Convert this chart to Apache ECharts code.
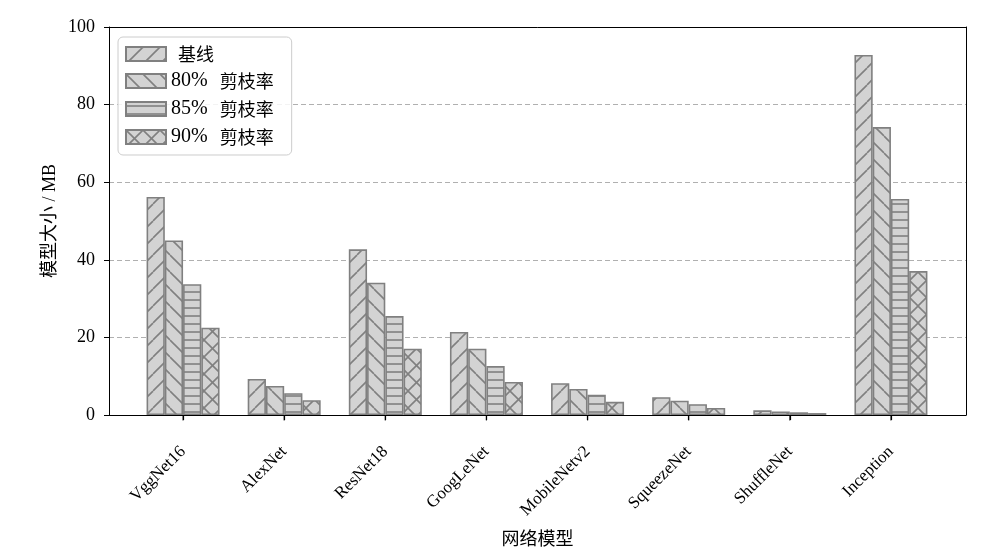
<!DOCTYPE html>
<html>
<head>
<meta charset="utf-8">
<script src="https://cdn.jsdelivr.net/npm/echarts@6/dist/echarts.min.js"></script>
<style>html,body{margin:0;padding:0;background:#fff}#c{width:1008px;height:560px}</style>
</head>
<body>
<div id="c"></div>
<script>
const categories = ['VggNet16', 'AlexNet', 'ResNet18', 'GoogLeNet', 'MobileNetv2', 'SqueezeNet', 'ShuffleNet', 'Inception'];
const seriesNames = ['基线', '80% 剪枝率', '85% 剪枝率', '90% 剪枝率'];
const baseline = [56.2, 9.3, 42.7, 21.4, 8.2, 4.6, 1.2, 92.8];
const prune80 = [45.0, 7.5, 34.1, 17.1, 6.7, 3.7, 0.9, 74.2];
const prune85 = [33.7, 5.6, 25.5, 12.6, 5.2, 2.8, 0.7, 55.7];
const prune90 = [22.5, 3.8, 17.1, 8.5, 3.4, 1.8, 0.5, 37.1];
const yTicks = [0, 20, 40, 60, 80, 100];

const FILL = '#d3d3d3', EDGE = '#808080';
const FONT = "'Liberation Serif', 'Noto Sans CJK SC', serif";
const CJK = "'Noto Sans CJK SC', sans-serif";

function makePattern(kind) {
  const s = 17;
  const c = document.createElement('canvas');
  const h = kind === 'h' ? 8 : s;
  c.width = s; c.height = h;
  const g = c.getContext('2d');
  g.fillStyle = FILL; g.fillRect(0, 0, s, h);
  g.strokeStyle = EDGE; g.lineWidth = 1.6;
  function diag(up) {
    for (let k = -1; k <= 1; k++) {
      g.beginPath();
      if (up) { g.moveTo(k * s, s); g.lineTo(k * s + s, 0); }
      else { g.moveTo(k * s, 0); g.lineTo(k * s + s, s); }
      g.stroke();
    }
  }
  if (kind === '/') diag(true);
  else if (kind === '\\') diag(false);
  else if (kind === 'x') { diag(true); diag(false); }
  else if (kind === 'h') { g.beginPath(); g.moveTo(0, 4); g.lineTo(s, 4); g.stroke(); }
  return { image: c, repeat: 'repeat' };
}

const patterns = [makePattern('/'), makePattern('\\'), makePattern('h'), makePattern('x')];
const values = [baseline, prune80, prune85, prune90];

const chart = echarts.init(document.getElementById('c'), null, { renderer: 'canvas' });
const gridTop = 27, gridBottom = 560 - 415;
const frameLine = () => ({ show: true, onZero: false, lineStyle: { color: '#000', width: 1 } });
const off = { show: false };
const barSeries = seriesNames.map((name, i) => ({
  name: name, type: 'bar', xAxisIndex: 2, yAxisIndex: 2,
  data: values[i], barWidth: 18.25, barGap: '0%',
  itemStyle: { color: patterns[i], borderColor: EDGE, borderWidth: 1.6 }
}));
const tickSeries = {
  type: 'scatter', xAxisIndex: 2, yAxisIndex: 2, silent: true, clip: false, z: 10,
  symbol: 'rect', symbolSize: [1.2, 5], symbolOffset: [0, 3],
  itemStyle: { color: '#000' },
  data: categories.map(c => [c, 0])
};
chart.setOption({
  animation: false,
  textStyle: { fontFamily: FONT },
  grid: [
    { left: 109, right: 1008 - 966, top: gridTop, bottom: gridBottom },
    { left: 132.5, right: 1008 - 941.5, top: gridTop, bottom: gridBottom }
  ],
  xAxis: [
    { gridIndex: 0, type: 'value', min: 0, max: 1, position: 'bottom', name: '网络模型', nameLocation: 'middle', nameGap: 116,
      nameTextStyle: { fontFamily: FONT, fontSize: 18, color: '#000' },
      axisLine: frameLine(), axisTick: off, axisLabel: off, splitLine: off },
    { gridIndex: 0, type: 'value', min: 0, max: 1, position: 'top',
      axisLine: frameLine(), axisTick: off, axisLabel: off, splitLine: off },
    { gridIndex: 1, type: 'category', data: categories, position: 'bottom',
      axisLine: frameLine(),
      axisTick: { show: true, interval: 0, alignWithLabel: true, length: 5, lineStyle: { color: '#000', width: 1.2 } },
      axisLabel: { rotate: 45, margin: 34, fontFamily: FONT, fontSize: 17, color: '#000', interval: 0 },
      splitLine: off }
  ],
  yAxis: [
    { gridIndex: 0, type: 'value', min: 0, max: 100, interval: 20, position: 'left',
      name: '模型大小 / MB', nameLocation: 'middle', nameGap: 50, nameRotate: 90, nameMoveOverlap: false,
      nameTextStyle: { fontFamily: FONT, fontSize: 18, color: '#000' },
      axisLine: frameLine(),
      axisTick: { show: true, length: 5, lineStyle: { color: '#000' } },
      axisLabel: { margin: 14, fontFamily: FONT, fontSize: 18, color: '#000',
        formatter: v => yTicks.includes(v) ? String(v) : '' },
      splitLine: { show: true, lineStyle: { color: '#b0b0b0', type: [5, 3], width: 1 } } },
    { gridIndex: 0, type: 'value', min: 0, max: 100, position: 'right',
      axisLine: frameLine(), axisTick: off, axisLabel: off, splitLine: off },
    { gridIndex: 1, type: 'value', min: 0, max: 100, show: false, splitLine: off }
  ],
  legend: {
    left: 118, top: 37, orient: 'vertical', itemWidth: 40, itemHeight: 14, itemGap: 8,
    padding: [8, 18, 8, 7], icon: 'rect',
    borderColor: '#cccccc', borderWidth: 1, borderRadius: 5, backgroundColor: 'rgba(255,255,255,0.85)',
    textStyle: { fontFamily: FONT, fontSize: 19, color: '#000',
      rich: {
        a: { fontFamily: FONT, fontSize: 20, color: '#000' },
        b: { fontFamily: CJK, fontSize: 18, color: '#000', padding: [0, 0, 0, 12] },
        c: { fontFamily: CJK, fontSize: 18, color: '#000', padding: [0, 0, 0, 7] }
      } },
    formatter: n => {
      const parts = n.split(' ');
      return parts.length === 1 ? '{c|' + n + '}' : '{a|' + parts[0] + '}{b|' + parts[1] + '}';
    },
    data: seriesNames
  },
  series: barSeries.concat([tickSeries])
});
</script>
</body>
</html>
